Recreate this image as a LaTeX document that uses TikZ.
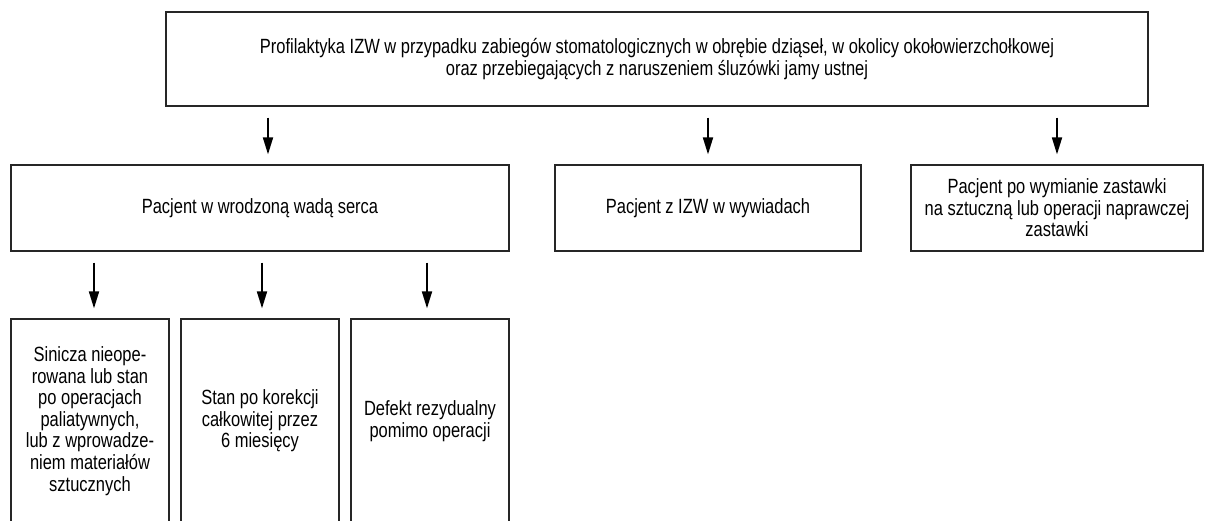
\documentclass[tikz,border=0pt]{standalone}
\usepackage{fontspec}
\setmainfont{Liberation Sans}[FakeStretch=0.8]
\usetikzlibrary{arrows.meta}
\begin{document}
\begin{tikzpicture}[x=1pt,y=-1pt,
  box/.style={draw=black!85, line width=1.2pt, align=center, inner sep=0pt,
    font=\fontsize{20.6}{21.6}\selectfont},
  arr/.style={line width=1.8pt, -{Triangle[length=17pt,width=10pt]},
    shorten <=11pt, shorten >=10pt}]
  \useasboundingbox (0,0) rectangle (1205,521);

  % top level
  \node[box, minimum width=982pt, minimum height=94pt] (top) at (657,59)
    {Profilaktyka IZW w przypadku zabiegów stomatologicznych w obrębie dziąseł, w okolicy okołowierzchołkowej\\
     oraz przebiegających z naruszeniem śluzówki jamy ustnej};

  % second level
  \node[box, minimum width=498pt, minimum height=86pt] (wada) at (260,208)
    {Pacjent w wrodzoną wadą serca};
  \node[box, minimum width=306pt, minimum height=86pt] (wyw) at (708,208)
    {Pacjent z IZW w wywiadach};
  \node[box, minimum width=292pt, minimum height=86pt] (zast) at (1057,208)
    {Pacjent po wymianie zastawki\\ na sztuczną lub operacji naprawczej\\ zastawki};

  % third level (runs past the lower edge)
  \node[box, minimum width=158pt, minimum height=204pt] (sin) at (90,421)
    {Sinicza nieope-\\ rowana lub stan\\ po operacjach\\ paliatywnych,\\ lub z wprowadze-\\ niem materiałów\\ sztucznych};
  \node[box, minimum width=158pt, minimum height=204pt] (kor) at (260,421)
    {Stan po korekcji\\ całkowitej przez\\ 6 miesięcy};
  \node[box, minimum width=158pt, minimum height=204pt] (def) at (430,421)
    {Defekt rezydualny\\ pomimo operacji};

  % arrows
  \draw[arr] ([xshift=8pt]top.south -| wada.north) -- ([xshift=8pt]wada.north);
  \draw[arr] (top.south -| wyw.north) -- (wyw.north);
  \draw[arr] (top.south -| zast.north) -- (zast.north);
  \draw[arr] ([xshift=4pt]wada.south -| sin.north) -- ([xshift=4pt]sin.north);
  \draw[arr] ([xshift=2pt]wada.south -| kor.north) -- ([xshift=2pt]kor.north);
  \draw[arr] ([xshift=-3pt]wada.south -| def.north) -- ([xshift=-3pt]def.north);
\end{tikzpicture}
\end{document}
